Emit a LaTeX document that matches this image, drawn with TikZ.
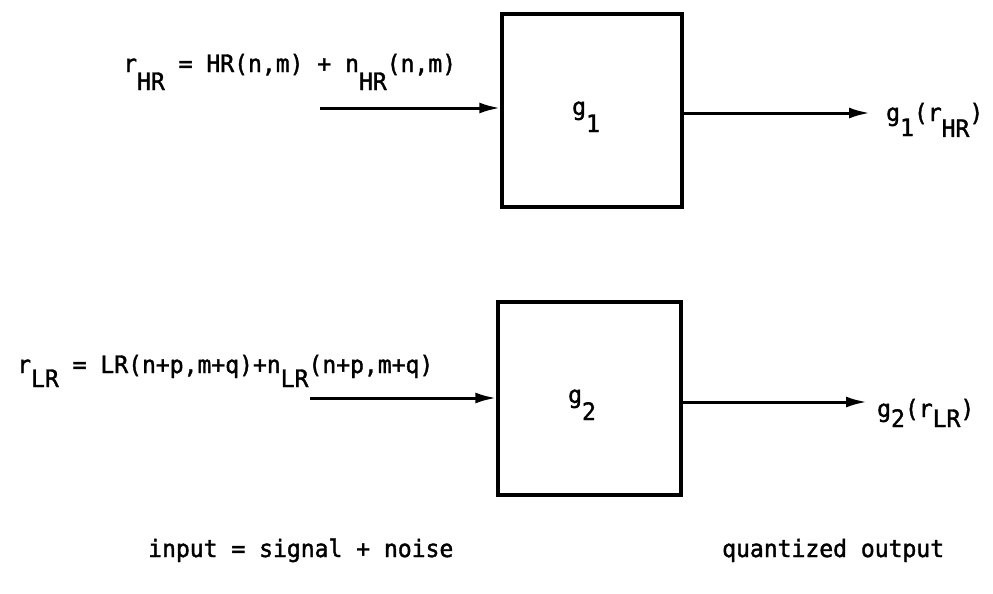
\documentclass[tikz,border=0pt]{standalone}
\usepackage{fontspec}
\setmonofont[FakeStretch=0.96,FakeBold=1.6]{DejaVu Sans Mono}
\usetikzlibrary{arrows.meta}
\newcommand{\lo}[2][17pt]{\raisebox{-#1}{#2}}
\begin{document}
\begin{tikzpicture}[x=1pt,y=-1pt,
  blk/.style={draw, line width=3.4pt, inner sep=0pt},
  lbl/.style={font=\ttfamily\fontsize{24}{28}\selectfont, inner sep=0pt, anchor=base west},
  sig/.style={line width=3pt, -{Latex[length=21pt,width=11pt]}}]
\useasboundingbox (0,0) rectangle (993,594);
% blocks
\node[blk, minimum width=180pt, minimum height=193pt] (b1) at (592,110.5) {};
\node[blk, minimum width=183pt, minimum height=193pt] (b2) at (589.5,398.5) {};
% block labels
\node[lbl] (g1) at (572,115) {g\lo{1}};
\node[lbl] (g2) at (568,403) {g\lo{2}};
% input texts
\node[lbl] (t1) at (123,72) {r\lo[18pt]{HR} = HR(n,m) + n\lo[18pt]{HR}(n,m)};
\node[lbl] (t2) at (17,373) {r\lo[14pt]{LR} = LR(n+p,m+q)+n\lo[14pt]{LR}(n+p,m+q)};
% output texts
\node[lbl] (o1) at (886,121) {g\lo[15pt]{1}(r\lo[16pt]{HR})};
\node[lbl] (o2) at (877,417) {g\lo[10pt]{2}(r\lo[10pt]{LR})};
% bottom captions
\node[lbl] (c1) at (148,557) {input = signal + noise};
\node[lbl] (c2) at (722,557) {quantized output};
% connectors
\coordinate (i1) at (320,108);
\coordinate (i2) at (310,398);
\coordinate (e1) at (870,113);
\coordinate (e2) at (867,402);
\draw[sig] (i1) -- (i1 -| b1.west);
\draw[sig] (e1 -| b1.east) -- (e1);
\draw[sig] (i2) -- (i2 -| b2.west);
\draw[sig] (e2 -| b2.east) -- (e2);
\end{tikzpicture}
\end{document}
